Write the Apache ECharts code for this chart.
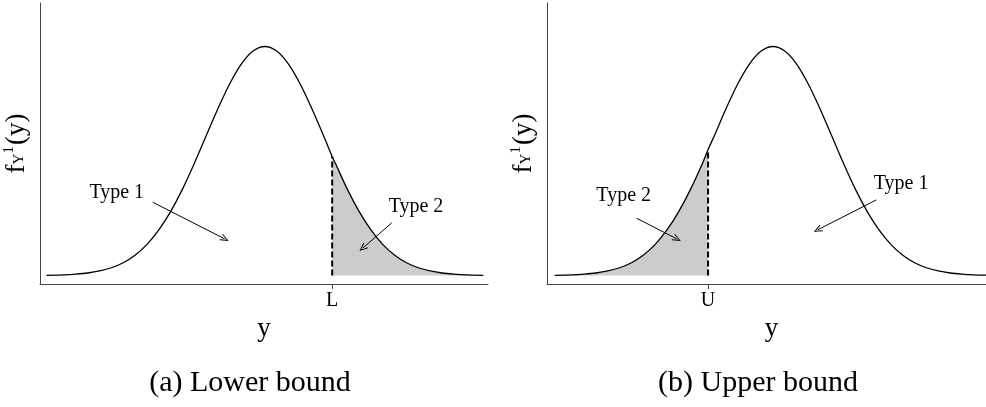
<!DOCTYPE html>
<html>
<head>
<meta charset="utf-8">
<script src="https://cdn.jsdelivr.net/npm/echarts@6/dist/echarts.min.js"></script>
<style>
html, body { margin: 0; padding: 0; background: #fff; }
#main { width: 986px; height: 407px; }
</style>
</head>
<body>
<div id="main"></div>
<script>
// density: x in sd units from the mode, height relative to the peak
var curveX = [-3.7, -3.4, -3.2, -3.0, -2.8, -2.6, -2.4, -2.2, -2.0, -1.8, -1.6, -1.4, -1.2, -1.0, -0.8, -0.6, -0.4, -0.2, 0,
              0.2, 0.4, 0.6, 0.8, 1.0, 1.2, 1.4, 1.6, 1.8, 2.0, 2.2, 2.4, 2.6, 2.8, 3.0, 3.2, 3.4, 3.7];
var curveY = [0.001, 0.003, 0.006, 0.011, 0.020, 0.034, 0.056, 0.089, 0.135, 0.198, 0.278, 0.375, 0.487, 0.607, 0.726, 0.835, 0.923, 0.980, 1.000,
              0.980, 0.923, 0.835, 0.726, 0.607, 0.487, 0.375, 0.278, 0.198, 0.135, 0.089, 0.056, 0.034, 0.020, 0.011, 0.006, 0.003, 0.001];

// cut points (x, height) and their tick labels
var cutX = [1.14, -1.10];
var cutY = [0.52, 0.55];
var cutLabels = ['L', 'U'];
var captions = ['(a) Lower bound', '(b) Upper bound'];

// annotations: text anchor, arrow start, arrow end (data coords)
var noteText = [['Type 1', 'Type 2'], ['Type 2', 'Type 1']];
var notePos = [[[-2.51, 0.36], [2.56, 0.30]], [[-2.53, 0.35], [2.17, 0.40]]];
var arrowFrom = [[[-1.90, 0.32], [2.15, 0.23]], [[-2.31, 0.25], [1.75, 0.33]]];
var arrowTo = [[[-0.68, 0.16], [1.66, 0.12]], [[-1.63, 0.16], [0.76, 0.20]]];

var FONT = 'Liberation Serif';
var openArrow = 'path://M5,0 L10,9 L9,10 L5,2.6 L1,10 L0,9 Z';

var myChart = echarts.init(document.getElementById('main'));

var grids = [
    {left: 40, top: 3, right: 498, bottom: 123},
    {left: 547, top: 3, right: 0, bottom: 123}
];
var xRange = [[-3.81, 3.78], [-3.83, 3.61]];
var captionX = [250, 758];
var xNamePad = [[0, 0, 0, 0], [0, 0, 0, 10]];

var xAxes = [], yAxes = [], series = [], titles = [];

for (var p = 0; p < 2; p++) {
    var pts = [];
    for (var i = 0; i < curveX.length; i++) pts.push([curveX[i], curveY[i]]);
    pts.push([cutX[p], cutY[p]]);
    pts.sort(function(a, b) { return a[0] - b[0]; });
    var shade = pts.filter(function(d) {
        return p == 0 ? d[0] >= cutX[0] : d[0] <= cutX[1];
    });

    xAxes.push({
        type: 'value',
        gridIndex: p,
        min: xRange[p][0],
        max: xRange[p][1],
        axisLine: {show: true, onZero: false, lineStyle: {color: '#444', width: 1}},
        splitLine: {show: false},
        axisTick: {show: true, customValues: [cutX[p]], length: 5, lineStyle: {color: '#444'}},
        axisLabel: {
            show: true,
            customValues: [cutX[p]],
            formatter: (function(lab) { return function() { return lab; }; })(cutLabels[p]),
            fontFamily: FONT, fontSize: 20, color: '#000', margin: 7
        },
        name: 'y',
        nameLocation: 'middle',
        nameGap: 30,
        nameTextStyle: {fontFamily: FONT, fontSize: 27, color: '#000', padding: xNamePad[p]}
    });

    yAxes.push({
        type: 'value',
        gridIndex: p,
        min: -0.037,
        max: 1.19,
        axisLine: {show: true, onZero: false, lineStyle: {color: '#444', width: 1}},
        axisTick: {show: false},
        axisLabel: {show: false},
        splitLine: {show: false},
        name: '{f|f}{sub|Y}{sup|1}{p|(y)}',
        nameLocation: 'middle',
        nameRotate: 90,
        nameGap: 4,
        nameTextStyle: {
            color: '#000',
            rich: {
                f: {fontFamily: FONT, fontSize: 27, color: '#000', padding: [0, 0, 5, 0]},
                sub: {fontFamily: FONT, fontSize: 15, color: '#000'},
                sup: {fontFamily: FONT, fontSize: 15, color: '#000', padding: [0, 0, 19, 0]},
                p: {fontFamily: FONT, fontSize: 27, color: '#000', padding: [0, 0, 5, 1]}
            }
        }
    });

    // 阴影部分
    series.push({
        type: 'line',
        xAxisIndex: p, yAxisIndex: p,
        data: shade,
        smooth: 0.3,
        symbol: 'none',
        lineStyle: {width: 0},
        areaStyle: {color: '#cccccc', opacity: 1},
        z: 1
    });

    // 密度曲线
    series.push({
        type: 'line',
        xAxisIndex: p, yAxisIndex: p,
        data: pts,
        smooth: 0.3,
        symbol: 'none',
        lineStyle: {color: '#000', width: 1.3},
        z: 3
    });

    // 虚线 + 箭头 + 文字
    var lines = [], marks = [];
    for (var k = 0; k < 2; k++) {
        lines.push([{coord: arrowFrom[p][k]}, {coord: arrowTo[p][k]}]);
        marks.push({coord: notePos[p][k], value: noteText[p][k]});
    }
    series.push({
        type: 'line',
        xAxisIndex: p, yAxisIndex: p,
        data: [[cutX[p], 0], [cutX[p], cutY[p]]],
        symbol: 'none',
        lineStyle: {color: '#000', width: 2, type: [6, 3]},
        z: 4,
        markLine: {
            silent: true,
            animation: false,
            symbol: ['none', openArrow],
            symbolSize: [7, 9],
            label: {show: false},
            lineStyle: {color: '#000', width: 1, type: 'solid'},
            data: lines
        },
        markPoint: {
            silent: true,
            animation: false,
            symbol: 'circle',
            symbolSize: 1,
            itemStyle: {color: 'transparent'},
            label: {
                show: true,
                position: 'inside',
                formatter: '{c}',
                fontFamily: FONT, fontSize: 20, color: '#000'
            },
            data: marks
        }
    });

    titles.push({
        text: captions[p],
        left: captionX[p],
        top: 368,
        textAlign: 'center',
        padding: 0,
        textStyle: {fontFamily: FONT, fontSize: 30, fontWeight: 'normal', color: '#000'}
    });
}

var option = {
    backgroundColor: '#fff',
    animation: false,
    title: titles,
    grid: grids,
    xAxis: xAxes,
    yAxis: yAxes,
    series: series
};

myChart.setOption(option);

window.addEventListener('resize', function() {
    myChart.resize();
});
</script>
</body>
</html>
